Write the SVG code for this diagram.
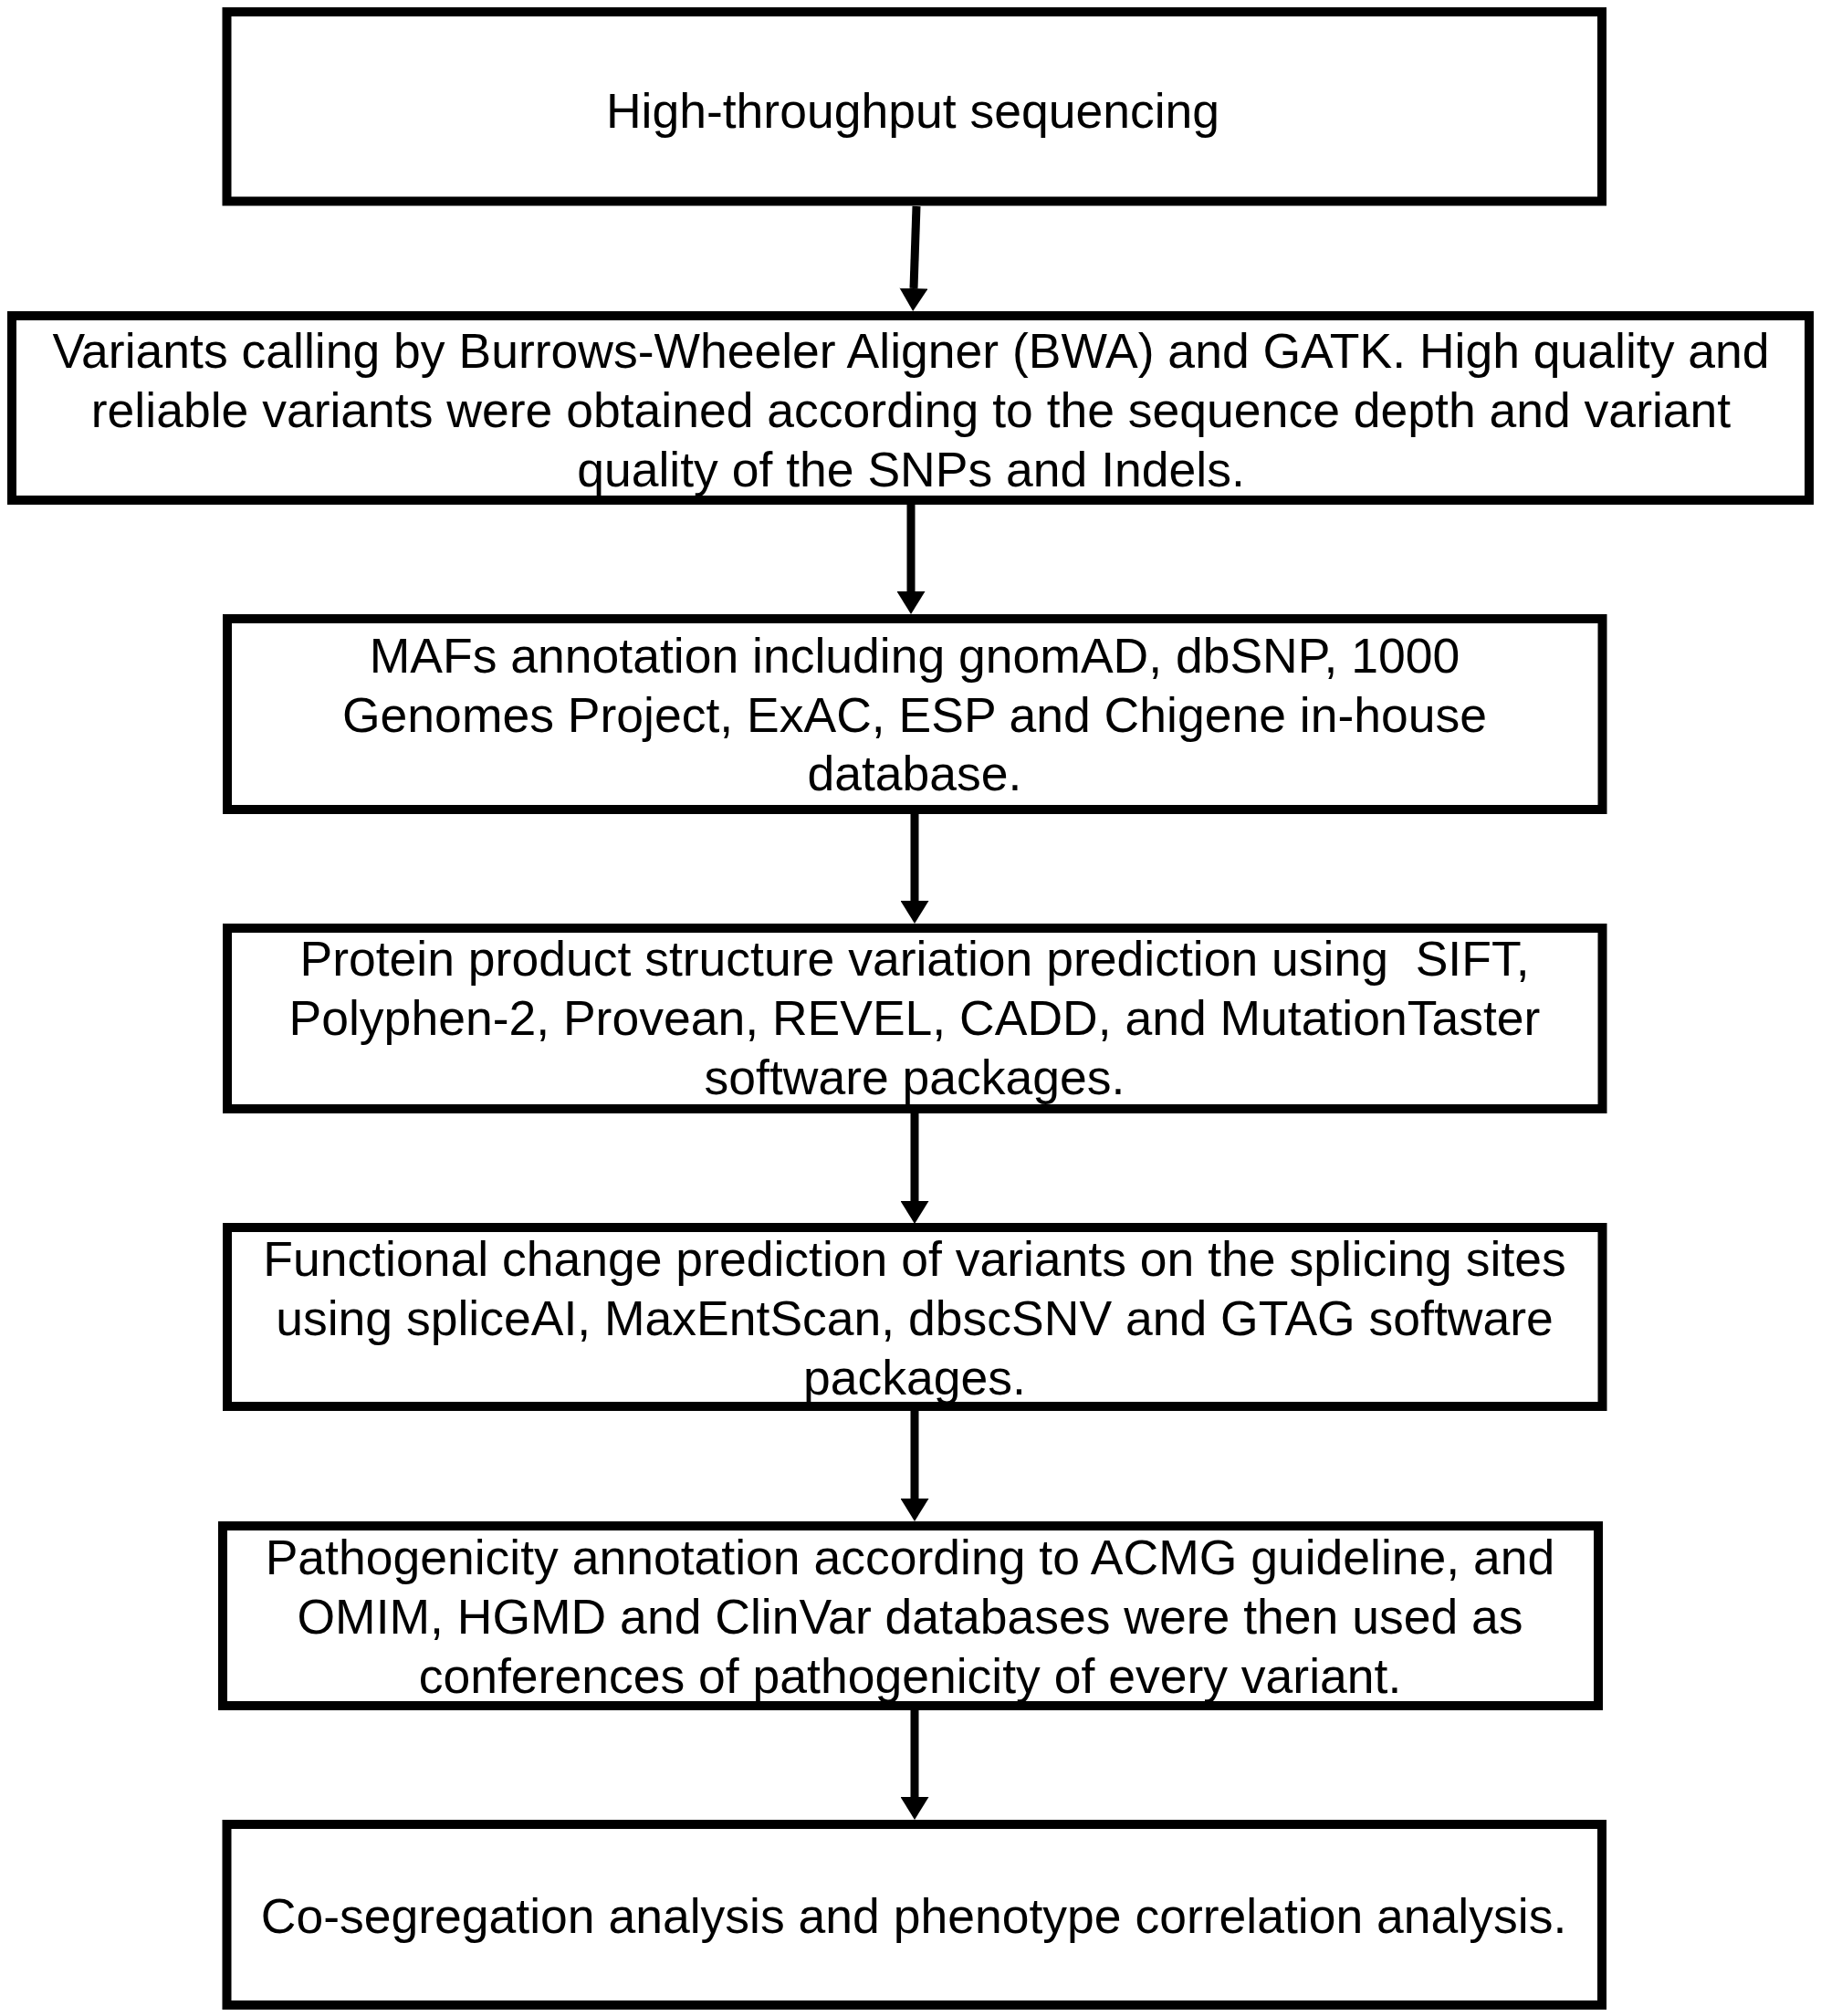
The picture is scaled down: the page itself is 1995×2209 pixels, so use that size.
<svg xmlns="http://www.w3.org/2000/svg" width="1995" height="2209" viewBox="0 0 1995 2209">
  <defs>
    <style>
      .box { fill: #ffffff; stroke: #000000; stroke-width: 10; }
      .lbl { font-family: "Liberation Sans", Arial, Helvetica, sans-serif; font-size: 53.5px; fill: #000000; text-anchor: middle; }
      .conn { stroke: #000000; stroke-width: 9; fill: none; marker-end: url(#arrow); }
    </style>
    <marker id="arrow" markerUnits="userSpaceOnUse" markerWidth="25" markerHeight="31" viewBox="0 0 25 31" refX="0" refY="15.5" orient="auto">
      <path d="M0,0 L25,15.5 L0,31 Z" fill="#000000"/>
    </marker>
  </defs>
  <rect x="0" y="0" width="1995" height="2209" fill="#ffffff"/>

  <g id="node1">
    <rect class="box" x="248.5" y="13" width="1506.5" height="207.5"/>
    <text class="lbl" x="1000" y="140">High-throughput sequencing</text>
  </g>

  <g id="node2">
    <rect class="box" x="13" y="346" width="1969" height="202"/>
    <text class="lbl" x="998" y="403">Variants calling by Burrows-Wheeler Aligner (BWA) and GATK. High quality and</text>
    <text class="lbl" x="998" y="468">reliable variants were obtained according to the sequence depth and variant</text>
    <text class="lbl" x="998" y="533">quality of the SNPs and Indels.</text>
  </g>

  <g id="node3">
    <rect class="box" x="249" y="678" width="1506.5" height="209"/>
    <text class="lbl" x="1002" y="737">MAFs annotation including gnomAD, dbSNP, 1000</text>
    <text class="lbl" x="1002" y="802">Genomes Project, ExAC, ESP and Chigene in-house</text>
    <text class="lbl" x="1002" y="866">database.</text>
  </g>

  <g id="node4">
    <rect class="box" x="249" y="1017" width="1506.5" height="198"/>
    <text class="lbl" x="1002" y="1069" xml:space="preserve">Protein product structure variation prediction using  SIFT,</text>
    <text class="lbl" x="1002" y="1134">Polyphen-2, Provean, REVEL, CADD, and MutationTaster</text>
    <text class="lbl" x="1002" y="1199">software packages.</text>
  </g>

  <g id="node5">
    <rect class="box" x="249" y="1345" width="1506.5" height="196"/>
    <text class="lbl" x="1002" y="1398">Functional change prediction of variants on the splicing sites</text>
    <text class="lbl" x="1002" y="1463">using spliceAI, MaxEntScan, dbscSNV and GTAG software</text>
    <text class="lbl" x="1002" y="1528">packages.</text>
  </g>

  <g id="node6">
    <rect class="box" x="244" y="1672" width="1507" height="197"/>
    <text class="lbl" x="997" y="1725">Pathogenicity annotation according to ACMG guideline, and</text>
    <text class="lbl" x="997" y="1790">OMIM, HGMD and ClinVar databases were then used as</text>
    <text class="lbl" x="997" y="1855">conferences of pathogenicity of every variant.</text>
  </g>

  <g id="node7">
    <rect class="box" x="248.5" y="1999" width="1506.5" height="198"/>
    <text class="lbl" x="1001" y="2118">Co-segregation analysis and phenotype correlation analysis.</text>
  </g>

  <g id="connectors">
    <line class="conn" x1="1004" y1="226" x2="1001" y2="316"/>
    <line class="conn" x1="998" y1="553" x2="998" y2="648"/>
    <line class="conn" x1="1002" y1="892" x2="1002" y2="987"/>
    <line class="conn" x1="1002" y1="1220" x2="1002" y2="1316"/>
    <line class="conn" x1="1002" y1="1546" x2="1002" y2="1642"/>
    <line class="conn" x1="1002" y1="1874" x2="1002" y2="1969"/>
  </g>
</svg>
